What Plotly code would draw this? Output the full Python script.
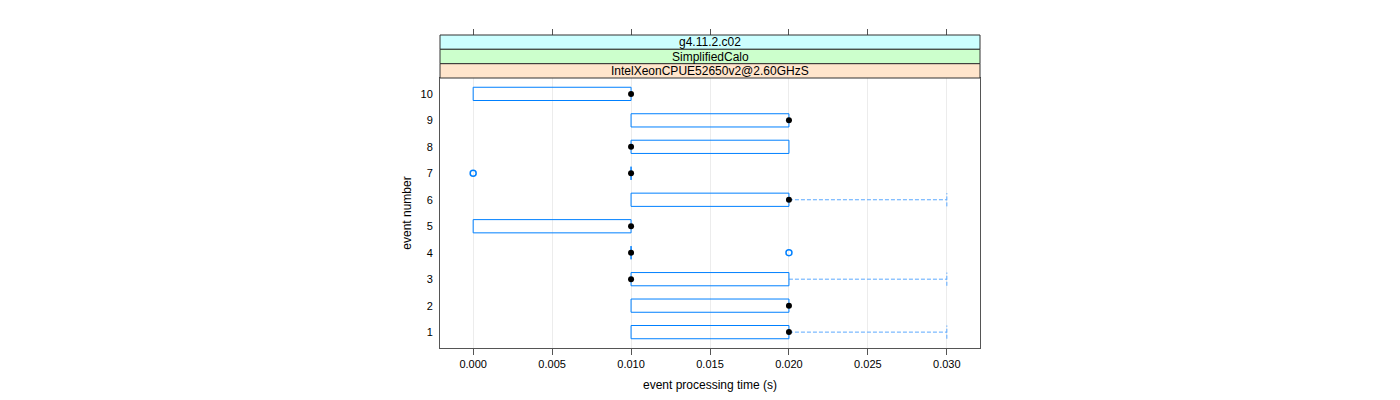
import plotly.graph_objects as go

# ---- data ----
events = [1, 2, 3, 4, 5, 6, 7, 8, 9, 10]
q1 = [0.010, 0.010, 0.010, 0.010, 0.000, 0.010, 0.010, 0.010, 0.010, 0.000]
q3 = [0.020, 0.020, 0.020, 0.010, 0.010, 0.020, 0.010, 0.020, 0.020, 0.010]
medians = [0.020, 0.020, 0.010, 0.010, 0.010, 0.020, 0.010, 0.010, 0.020, 0.010]
whisker_lo = [0.010, 0.010, 0.010, 0.010, 0.000, 0.010, 0.010, 0.010, 0.010, 0.000]
whisker_hi = [0.030, 0.020, 0.030, 0.010, 0.010, 0.030, 0.010, 0.020, 0.020, 0.010]
outlier_events = [7, 4]
outlier_times = [0.000, 0.020]
strip_labels = ["g4.11.2.c02", "SimplifiedCalo", "IntelXeonCPUE52650v2@2.60GHzS"]
x_ticks = [0.000, 0.005, 0.010, 0.015, 0.020, 0.025, 0.030]
x_tick_text = ["0.000", "0.005", "0.010", "0.015", "0.020", "0.025", "0.030"]

# ---- style ----
BLUE = "#0080ff"
HW = 0.25  # half box height in category units
FONT = "Liberation Sans, Arial, Helvetica, sans-serif"

box_x, box_y = [], []
for e, a, b in zip(events, q1, q3):
    box_x += [a, b, b, a, a, None]
    box_y += [e - HW, e - HW, e + HW, e + HW, e - HW, None]

wx, wy = [], []
for e, lo, a, b, hi in zip(events, whisker_lo, q1, q3, whisker_hi):
    if hi > b:
        wx += [b, hi, None, hi, hi, None]
        wy += [e, e, None, e - HW, e + HW, None]
    if lo < a:
        wx += [lo, a, None, lo, lo, None]
        wy += [e, e, None, e - HW, e + HW, None]

fig = go.Figure()
fig.add_trace(go.Scatter(x=wx, y=wy, mode="lines",
                         line=dict(color="#5aa8ff", width=1, dash="4px,2px"),
                         hoverinfo="skip", showlegend=False))
fig.add_trace(go.Scatter(x=box_x, y=box_y, mode="lines",
                         line=dict(color=BLUE, width=1),
                         hoverinfo="skip", showlegend=False))
fig.add_trace(go.Scatter(x=medians, y=events, mode="markers",
                         marker=dict(color="black", size=6),
                         showlegend=False))
fig.add_trace(go.Scatter(x=outlier_times, y=outlier_events, mode="markers",
                         marker=dict(symbol="circle-open", color=BLUE, size=6,
                                     line=dict(width=1.5, color=BLUE)),
                         showlegend=False))
# invisible trace to carry the top tick axis
fig.add_trace(go.Scatter(x=[x_ticks[0]], y=[events[0]], xaxis="x2", mode="markers",
                         marker=dict(opacity=0), hoverinfo="skip", showlegend=False))

T, B = 35, 52
H = 400
plot_h = H - T - B
def py(pix):
    return (H - B - pix) / plot_h

panel_top = py(78)
strip_edges = [py(35), py(49.3), py(63.7), py(78)]
strip_cols = ["#ccffff", "#ccffcc", "#ffe5cc"]

shapes = []
annotations = []
for i in range(3):
    shapes.append(dict(type="rect", xref="paper", yref="paper",
                       x0=0, x1=1, y0=strip_edges[i + 1], y1=strip_edges[i],
                       fillcolor=strip_cols[i], line=dict(color="#333333", width=1),
                       layer="above"))
    annotations.append(dict(xref="paper", yref="paper", x=0.5,
                            y=(strip_edges[i] + strip_edges[i + 1]) / 2,
                            text=strip_labels[i], showarrow=False,
                            font=dict(size=12, color="black", family=FONT),
                            xanchor="center", yanchor="middle"))

xrange = [-0.0021, 0.0321]
fig.update_layout(
    width=1400, height=400,
    margin=dict(l=440, r=420, t=T, b=B, pad=0, autoexpand=False),
    paper_bgcolor="white", plot_bgcolor="white",
    font=dict(family=FONT, size=11, color="black"),
    shapes=shapes, annotations=annotations,
    xaxis=dict(range=xrange, tickvals=x_ticks, ticktext=x_tick_text,
               ticks="outside", ticklen=6, tickcolor="#555555",
               showline=True, linecolor="#555555", mirror=True,
               showgrid=True, gridcolor="#ececec", gridwidth=1, zeroline=False,
               automargin=False,
               title=dict(text="event processing time (s)", font=dict(size=12), standoff=11),
               tickfont=dict(size=11)),
    xaxis2=dict(range=xrange, overlaying="x", anchor="free", position=1, side="top",
                tickvals=x_ticks, ticks="outside", ticklen=6, tickcolor="#555555",
                automargin=False,
                showticklabels=False, showgrid=False, zeroline=False, showline=False),
    yaxis=dict(range=[0.4, 10.6], domain=[0, panel_top], tickvals=events,
               ticktext=[str(e) for e in events],
               ticks="outside", ticklen=4, tickcolor="rgba(0,0,0,0)",
               showline=True, linecolor="#555555", mirror=True,
               showgrid=False, zeroline=False, automargin=False,
               title=dict(text="event number", font=dict(size=12), standoff=6),
               tickfont=dict(size=11)),
)

fig.write_html("out.html")
